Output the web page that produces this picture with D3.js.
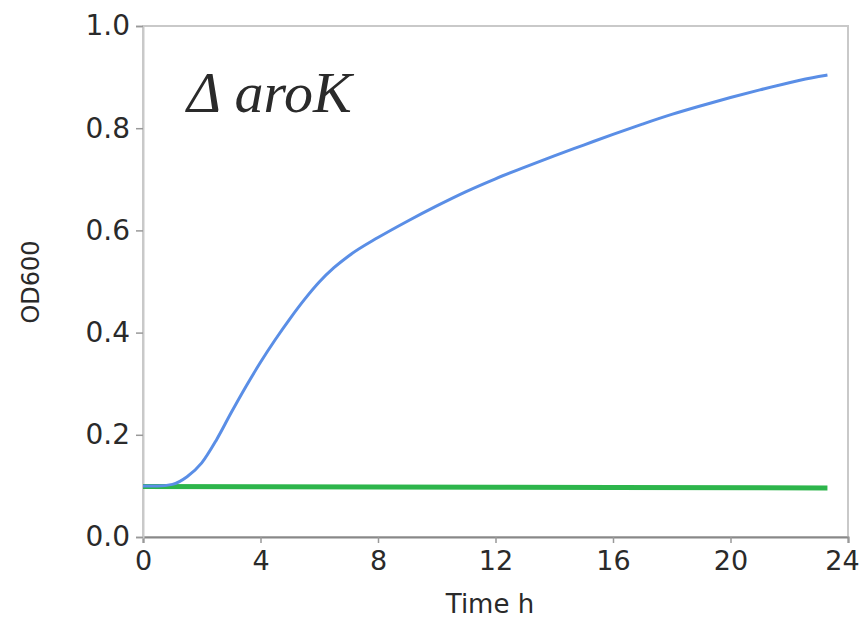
<!DOCTYPE html>
<html>
<head>
<meta charset="utf-8">
<script src="https://cdn.jsdelivr.net/npm/d3@7"></script>
<style>
  body { margin: 0; background: #fff; }
  text { font-family: "DejaVu Sans", sans-serif; fill: #2a2a2a; }
</style>
</head>
<body>
<div id="chart"></div>
<script>
// growth curve, time in hours
const blueTime = [0, 0.5, 1, 1.5, 2, 2.5, 3, 3.5, 4, 4.5, 5, 5.5, 6, 6.5, 7, 8, 9, 10, 11, 12, 13, 14, 15, 16, 17, 18, 19, 20, 21, 22, 23, 23.3];
const blueOD = [0.1, 0.1, 0.103, 0.118, 0.145, 0.19, 0.243, 0.294, 0.342, 0.386, 0.427, 0.465, 0.499, 0.527, 0.55, 0.586, 0.618, 0.648, 0.676, 0.701, 0.724, 0.746, 0.767, 0.788, 0.808, 0.827, 0.844, 0.86, 0.875, 0.889, 0.901, 0.904];
const greenTime = [0, 8, 16, 23.3];
const greenOD = [0.099, 0.098, 0.097, 0.096];
const xTicks = [0, 4, 8, 12, 16, 20, 24];
const yTicks = [0.0, 0.2, 0.4, 0.6, 0.8, 1.0];

const width = 864, height = 619;
const margin = {left: 143, right: 16, top: 26, bottom: 82};

const svg = d3.select("#chart").append("svg")
  .attr("width", width).attr("height", height);

const x = d3.scaleLinear().domain([0, 24]).range([margin.left, width - margin.right]);
const y = d3.scaleLinear().domain([0, 1]).range([height - margin.bottom, margin.top]);

// frame
svg.append("rect")
  .attr("x", x(0)).attr("y", y(1))
  .attr("width", x(24) - x(0)).attr("height", y(0) - y(1))
  .attr("fill", "none").attr("stroke", "#c9c9c9").attr("stroke-width", 2);

const xAxis = svg.append("g")
  .attr("transform", `translate(0,${y(0)})`)
  .call(d3.axisBottom(x).tickValues(xTicks).tickSize(6).tickPadding(8).tickFormat(d3.format("d")));
xAxis.select(".domain").attr("stroke", "#888").attr("stroke-width", 2);
xAxis.selectAll(".tick line").attr("stroke", "#999").attr("stroke-width", 1.5);
xAxis.selectAll("text").style("font-size", "27px").attr("fill", "#2a2a2a")
  .attr("dx", d => d === 24 ? -6 : 0);

const yAxis = svg.append("g")
  .attr("transform", `translate(${x(0)},0)`)
  .call(d3.axisLeft(y).tickValues(yTicks).tickSize(7).tickPadding(6).tickFormat(d3.format(".1f")));
yAxis.select(".domain").attr("stroke", "#c9c9c9").attr("stroke-width", 2);
yAxis.selectAll(".tick line").attr("stroke", "#999").attr("stroke-width", 1.5);
yAxis.selectAll("text").style("font-size", "28px").attr("fill", "#2a2a2a");

const line = d3.line()
  .x(d => x(d[0]))
  .y(d => y(d[1]))
  .curve(d3.curveMonotoneX);

svg.append("path")
  .datum(greenTime.map((t, i) => [t, greenOD[i]]))
  .attr("d", line)
  .attr("fill", "none").attr("stroke", "#2db54b").attr("stroke-width", 5);

svg.append("path")
  .datum(blueTime.map((t, i) => [t, blueOD[i]]))
  .attr("d", line)
  .attr("fill", "none").attr("stroke", "#5a8ee6").attr("stroke-width", 3);

// labels
svg.append("text")
  .attr("x", 490).attr("y", 613)
  .attr("text-anchor", "middle")
  .style("font-size", "26px")
  .text("Time h");

svg.append("text")
  .attr("transform", "translate(39,282) rotate(-90)")
  .attr("text-anchor", "middle")
  .style("font-size", "24px")
  .text("OD600");

svg.append("text")
  .attr("x", 187).attr("y", 112)
  .style("font-family", "'Liberation Serif', serif")
  .style("font-style", "italic")
  .style("font-size", "58px")
  .attr("fill", "#111")
  .text("Δ aroK");
</script>
</body>
</html>
